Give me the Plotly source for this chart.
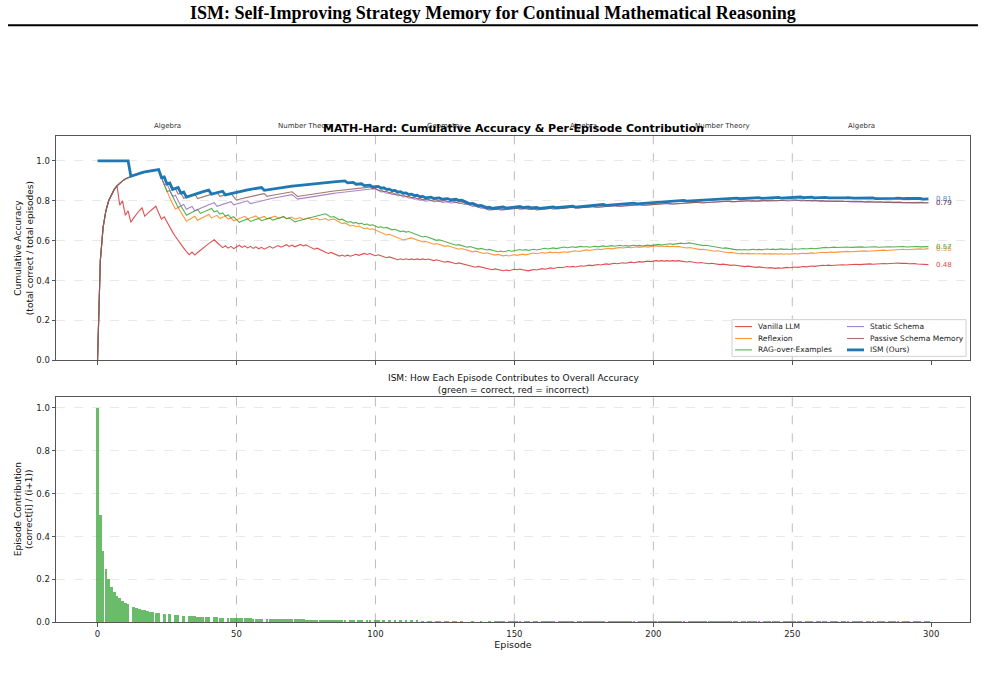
import numpy as np
import plotly.graph_objects as go

N = 300
episodes = list(range(N))

methods = ["Vanilla LLM", "Reflexion", "RAG-over-Examples", "Static Schema",
           "Passive Schema Memory", "ISM (Ours)"]
colors = ["#d62728", "#ff7f0e", "#2ca02c", "#9467bd", "#8c564b", "#1f77b4"]

phase_names = ["Algebra", "Number Theory", "Geometry", "Algebra", "Number Theory", "Algebra"]
phase_centers = [25, 75, 125, 175, 225, 275]
phase_bounds = [50, 100, 150, 200, 250]

# Episodes answered incorrectly by each method
wrong_vanilla = [0, 8, 10, 12, 17, 22, 23, 25, 26, 27, 28, 29, 30, 31, 32, 33, 35, 43, 44, 45, 47, 49,
                 52, 54, 56, 58, 60, 63, 66, 69, 71, 74, 76, 77, 78, 80, 81, 82, 83, 85, 86, 87, 89,
                 91, 94, 97, 99, 100, 102, 103, 104, 106, 107, 108, 110, 112, 114, 116, 118,
                 120, 121, 123, 124, 125, 127, 128, 129, 131, 132, 133, 134, 135, 136, 138, 139, 140,
                 141, 142, 144, 145, 146, 148, 151, 153, 154, 155, 158, 161, 164, 167, 170,
                 172, 175, 178, 181, 184, 187, 190, 193, 196, 199, 202, 204, 206, 208, 210,
                 211, 212, 214, 215, 216, 218, 219, 220, 222, 223, 224, 226, 227, 228, 230,
                 231, 232, 233, 235, 236, 237, 239, 240, 241, 243, 244, 246, 249, 252, 255, 258,
                 262, 264, 267, 269, 272, 274, 277, 279, 282, 284, 287, 289,
                 291, 292, 294, 295, 296, 298, 299]
wrong_reflexion = [0, 23, 24, 25, 26, 27, 28, 30, 31, 32, 36, 41, 44, 47, 49, 54, 58, 61, 65, 68, 71,
                   74, 77, 80, 83, 86, 87, 88, 90, 91, 93, 95, 96, 98, 100,
                   101, 102, 103, 104, 106, 107, 108, 109, 110,
                   114, 115, 116, 117, 119, 120, 121, 123, 124, 125, 127,
                   128, 129, 130, 132, 133, 134, 135, 137, 138, 139, 141, 142, 143, 145, 146,
                   148, 151, 154, 158, 161, 164, 166, 169, 173, 177, 181, 185, 189, 192, 195, 198,
                   202, 204, 206, 208, 210, 211, 212, 214, 215, 216, 217, 219, 220, 221, 222, 224,
                   225, 226, 227, 229, 230, 231, 233, 235, 237, 239, 241, 243, 245, 247, 249,
                   252, 255, 258, 262, 265, 268, 271, 274, 277, 280, 284, 287, 291, 294, 297]
wrong_rag = [0, 23, 24, 25, 27, 28, 29, 31, 32, 37, 42, 44, 46, 48, 50, 51, 55, 59, 63, 68, 70, 71,
             83, 84, 86, 87, 89, 90, 92, 94, 96, 98, 100, 101, 103, 105, 106, 108, 109, 111, 113,
             114, 115, 116, 117, 119, 120, 121, 122, 124, 125, 126, 127,
             128, 129, 131, 132, 133, 135, 136, 137, 139, 140, 142, 143, 144, 146,
             149, 153, 155, 158, 162, 165, 169, 172, 175, 177, 180, 183, 186, 189, 191, 194, 196, 199,
             203, 207, 211, 214, 215, 216, 217, 218, 220, 221, 222, 223, 224, 225, 227, 228, 229, 230,
             232, 234, 237, 239, 242, 244, 247, 249, 252, 255, 258,
             263, 266, 268, 271, 274, 276, 279, 281, 284, 286, 289, 291, 293, 296, 298]
wrong_static = [0, 23, 24, 26, 27, 29, 30, 32, 35, 43, 49, 55, 71, 72,
                101, 102, 104, 106, 108, 110, 112, 114, 116, 118, 121, 124, 127, 130,
                132, 134, 135, 137, 138, 140, 141, 145, 153, 156, 159, 164, 172,
                179, 187, 196, 206, 217, 228, 235, 241, 248,
                253, 257, 260, 264, 268, 271, 275, 279, 282, 286, 290, 293, 297]
wrong_passive = [0, 23, 25, 27, 29, 31, 36, 44, 49, 50, 61, 71, 72, 99,
                 101, 103, 105, 107, 109, 111, 113, 115, 117, 120, 123, 126, 129,
                 132, 133, 135, 136, 137, 139, 140, 142, 146, 152, 155, 158, 166, 173,
                 180, 188, 197, 207, 218, 229, 237, 244,
                 252, 255, 259, 262, 266, 269, 273, 276, 279, 283, 286, 290, 294, 298]
wrong_ism = [12, 23, 25, 27, 30, 32, 41, 46, 60, 90, 93, 96, 99,
             102, 104, 106, 108, 110, 112, 114, 116, 118, 121, 124, 127, 130,
             132, 133, 134, 136, 137, 139, 140, 142, 147, 153, 156, 159, 165, 172,
             183, 194, 212, 231, 239, 246,
             254, 258, 263, 267, 271, 276, 280, 284, 289, 293, 297]

wrong_lists = [wrong_vanilla, wrong_reflexion, wrong_rag, wrong_static, wrong_passive, wrong_ism]


def correctness(wrong):
    c = np.ones(N)
    c[wrong] = 0
    return c


W, H = 985, 678
def px(x):
    return x / W
def py(y):
    return 1 - y / H

XDOM = [px(56), px(970)]
Y1DOM = [py(363), py(137)]
Y2DOM = [py(627), py(400)]
XR = [-14.95, 313.95]

fig = go.Figure()
ticks_font = dict(family="DejaVu Sans", size=8.5, color="#222")
shapes = []

# manual two-column legend
leg_cols = [735, 847]
leg_rows = [329, 341, 352.5]

for i, (name, col, wr) in enumerate(zip(methods, colors, wrong_lists)):
    c = correctness(wr)
    acc = np.cumsum(c) / np.arange(1, N + 1)
    is_ism = name.startswith("ISM")
    lw = 2.8 if is_ism else 1.1
    op = 1.0 if is_ism else 0.8
    fig.add_trace(go.Scatter(
        x=episodes, y=acc, mode="lines", name=name,
        line=dict(color=col, width=lw), opacity=op, showlegend=False,
        xaxis="x", yaxis="y", hoverinfo="skip"))
    fig.add_annotation(x=301, y=acc[-1], xref="x", yref="y", text=f"{acc[-1]:.2f}",
                       showarrow=False, xanchor="left", yanchor="middle",
                       font=dict(family="DejaVu Sans", size=7, color=col), opacity=0.85)
    lx = leg_cols[i // 3]
    ly = leg_rows[i % 3]
    shapes.append(dict(type="line", xref="paper", yref="paper", x0=px(lx), x1=px(lx + 17),
                       y0=py(ly), y1=py(ly), line=dict(color=col, width=lw), opacity=op,
                       layer="above"))
    fig.add_annotation(x=px(lx + 21), y=py(ly), xref="paper", yref="paper", text=name,
                       showarrow=False, xanchor="left", yanchor="middle",
                       font=dict(family="DejaVu Sans", size=7.5, color="#222"))

ism_c = correctness(wrong_ism)
contrib = ism_c / np.arange(1, N + 1)
bar_colors = ["#2ca02c" if v == 1 else "#d62728" for v in ism_c]
fig.add_trace(go.Bar(x=episodes, y=contrib, marker=dict(color=bar_colors, line=dict(width=0)),
                     opacity=0.7, width=0.95, showlegend=False, xaxis="x2", yaxis="y2",
                     hoverinfo="skip"))

for b in phase_bounds:
    for xr, yr in (("x", "y domain"), ("x2", "y2 domain")):
        shapes.append(dict(type="line", xref=xr, yref=yr, x0=b, x1=b, y0=0, y1=1,
                           line=dict(color="#bdbdbd", width=1, dash="dash"), layer="below"))
# header rule
shapes.append(dict(type="line", xref="paper", yref="paper", x0=px(8), x1=px(978),
                   y0=py(25.5), y1=py(25.5), line=dict(color="black", width=2)))
# legend frame
shapes.insert(0, dict(type="rect", xref="paper", yref="paper", x0=px(732), x1=px(966),
                      y0=py(359), y1=py(322), line=dict(color="#d0d0d0", width=1),
                      fillcolor="rgba(255,255,255,0.85)", layer="above"))
fig.update_layout(shapes=shapes)

for name, cx in zip(phase_names, phase_centers):
    fig.add_annotation(x=cx, y=py(127), xref="x", yref="paper", text=name, showarrow=False,
                       font=dict(family="DejaVu Sans", size=7, color="#333"),
                       xanchor="center", yanchor="middle")

fig.add_annotation(x=px(493), y=py(13), xref="paper", yref="paper",
                   text="<b>ISM: Self-Improving Strategy Memory for Continual Mathematical Reasoning</b>",
                   showarrow=False, font=dict(family="Liberation Serif", size=18, color="black"),
                   xanchor="center", yanchor="middle")
fig.add_annotation(x=px(513), y=py(129), xref="paper", yref="paper",
                   text="<b>MATH-Hard: Cumulative Accuracy & Per-Episode Contribution</b>",
                   showarrow=False, font=dict(family="DejaVu Sans", size=11, color="black"),
                   xanchor="center", yanchor="middle")
fig.add_annotation(x=px(513), y=py(387), xref="paper", yref="paper",
                   text="ISM: How Each Episode Contributes to Overall Accuracy<br>(green = correct, red = incorrect)",
                   showarrow=False, font=dict(family="DejaVu Sans", size=9, color="#111"),
                   xanchor="center", yanchor="middle")
# y-axis titles (two lines, rotated)
fig.add_annotation(x=px(24), y=py(250), xref="paper", yref="paper", textangle=-90,
                   text="Cumulative Accuracy<br>(total correct / total episodes)",
                   showarrow=False, font=dict(family="DejaVu Sans", size=9, color="#111"),
                   xanchor="center", yanchor="middle")
fig.add_annotation(x=px(24), y=py(513), xref="paper", yref="paper", textangle=-90,
                   text="Episode Contribution<br>(correct[i] / (i+1))",
                   showarrow=False, font=dict(family="DejaVu Sans", size=9, color="#111"),
                   xanchor="center", yanchor="middle")

axis_common = dict(showline=True, mirror=True, linecolor="#555", linewidth=1, ticks="outside",
                   ticklen=3.5, tickcolor="#555", tickfont=ticks_font, zeroline=False)
tick_x = [0, 50, 100, 150, 200, 250, 300]
tick_y = [0.0, 0.2, 0.4, 0.6, 0.8, 1.0]
tick_y_txt = [f"{v:.1f}" for v in tick_y]

fig.update_layout(
    width=W, height=H, autosize=False, margin=dict(l=0, r=0, t=0, b=0),
    paper_bgcolor="white", plot_bgcolor="white", showlegend=False,
    xaxis=dict(domain=XDOM, range=XR, anchor="y", tickvals=tick_x, showticklabels=False,
               showgrid=False, **axis_common),
    yaxis=dict(domain=Y1DOM, range=[0, 1.125], anchor="x", tickvals=tick_y, ticktext=tick_y_txt,
               showgrid=True, gridcolor="#e9e9e9", griddash="dash", gridwidth=1,
               **axis_common),
    xaxis2=dict(domain=XDOM, range=XR, anchor="y2", tickvals=tick_x, showgrid=False,
                title=dict(text="Episode", font=dict(family="DejaVu Sans", size=9.5, color="#111"),
                           standoff=2),
                **axis_common),
    yaxis2=dict(domain=Y2DOM, range=[0, 1.05], anchor="x2", tickvals=tick_y, ticktext=tick_y_txt,
                showgrid=True, gridcolor="#e9e9e9", griddash="dash", gridwidth=1,
                **axis_common),
    bargap=0,
)

fig.write_html("out.html")
